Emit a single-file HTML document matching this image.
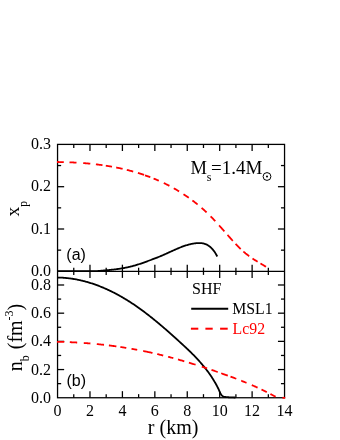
<!DOCTYPE html>
<html><head><meta charset="utf-8"><title>figure</title>
<style>
html,body{margin:0;padding:0;background:#fff;}
body{width:340px;height:440px;overflow:hidden;font-family:"Liberation Serif",serif;}
svg{display:block;}
</style></head><body>
<svg style="will-change:transform" width="340" height="440" viewBox="0 0 340 440">
<rect x="0" y="0" width="340" height="440" fill="#fff"/>
<rect x="57.55" y="144.4" width="227.00" height="253.35" fill="none" stroke="#000" stroke-width="1.28"/>
<line x1="57.55" y1="271.30" x2="284.55" y2="271.30" stroke="#000" stroke-width="1.28"/>
<line x1="73.76" y1="144.40" x2="73.76" y2="148.00" stroke="#000" stroke-width="1.28"/>
<line x1="73.76" y1="267.70" x2="73.76" y2="274.90" stroke="#000" stroke-width="1.28"/>
<line x1="73.76" y1="394.15" x2="73.76" y2="397.75" stroke="#000" stroke-width="1.28"/>
<line x1="89.98" y1="144.40" x2="89.98" y2="151.00" stroke="#000" stroke-width="1.28"/>
<line x1="89.98" y1="264.70" x2="89.98" y2="277.90" stroke="#000" stroke-width="1.28"/>
<line x1="89.98" y1="391.15" x2="89.98" y2="397.75" stroke="#000" stroke-width="1.28"/>
<line x1="106.19" y1="144.40" x2="106.19" y2="148.00" stroke="#000" stroke-width="1.28"/>
<line x1="106.19" y1="267.70" x2="106.19" y2="274.90" stroke="#000" stroke-width="1.28"/>
<line x1="106.19" y1="394.15" x2="106.19" y2="397.75" stroke="#000" stroke-width="1.28"/>
<line x1="122.41" y1="144.40" x2="122.41" y2="151.00" stroke="#000" stroke-width="1.28"/>
<line x1="122.41" y1="264.70" x2="122.41" y2="277.90" stroke="#000" stroke-width="1.28"/>
<line x1="122.41" y1="391.15" x2="122.41" y2="397.75" stroke="#000" stroke-width="1.28"/>
<line x1="138.62" y1="144.40" x2="138.62" y2="148.00" stroke="#000" stroke-width="1.28"/>
<line x1="138.62" y1="267.70" x2="138.62" y2="274.90" stroke="#000" stroke-width="1.28"/>
<line x1="138.62" y1="394.15" x2="138.62" y2="397.75" stroke="#000" stroke-width="1.28"/>
<line x1="154.84" y1="144.40" x2="154.84" y2="151.00" stroke="#000" stroke-width="1.28"/>
<line x1="154.84" y1="264.70" x2="154.84" y2="277.90" stroke="#000" stroke-width="1.28"/>
<line x1="154.84" y1="391.15" x2="154.84" y2="397.75" stroke="#000" stroke-width="1.28"/>
<line x1="171.05" y1="144.40" x2="171.05" y2="148.00" stroke="#000" stroke-width="1.28"/>
<line x1="171.05" y1="267.70" x2="171.05" y2="274.90" stroke="#000" stroke-width="1.28"/>
<line x1="171.05" y1="394.15" x2="171.05" y2="397.75" stroke="#000" stroke-width="1.28"/>
<line x1="187.26" y1="144.40" x2="187.26" y2="151.00" stroke="#000" stroke-width="1.28"/>
<line x1="187.26" y1="264.70" x2="187.26" y2="277.90" stroke="#000" stroke-width="1.28"/>
<line x1="187.26" y1="391.15" x2="187.26" y2="397.75" stroke="#000" stroke-width="1.28"/>
<line x1="203.48" y1="144.40" x2="203.48" y2="148.00" stroke="#000" stroke-width="1.28"/>
<line x1="203.48" y1="267.70" x2="203.48" y2="274.90" stroke="#000" stroke-width="1.28"/>
<line x1="203.48" y1="394.15" x2="203.48" y2="397.75" stroke="#000" stroke-width="1.28"/>
<line x1="219.69" y1="144.40" x2="219.69" y2="151.00" stroke="#000" stroke-width="1.28"/>
<line x1="219.69" y1="264.70" x2="219.69" y2="277.90" stroke="#000" stroke-width="1.28"/>
<line x1="219.69" y1="391.15" x2="219.69" y2="397.75" stroke="#000" stroke-width="1.28"/>
<line x1="235.91" y1="144.40" x2="235.91" y2="148.00" stroke="#000" stroke-width="1.28"/>
<line x1="235.91" y1="267.70" x2="235.91" y2="274.90" stroke="#000" stroke-width="1.28"/>
<line x1="235.91" y1="394.15" x2="235.91" y2="397.75" stroke="#000" stroke-width="1.28"/>
<line x1="252.12" y1="144.40" x2="252.12" y2="151.00" stroke="#000" stroke-width="1.28"/>
<line x1="252.12" y1="264.70" x2="252.12" y2="277.90" stroke="#000" stroke-width="1.28"/>
<line x1="252.12" y1="391.15" x2="252.12" y2="397.75" stroke="#000" stroke-width="1.28"/>
<line x1="268.34" y1="144.40" x2="268.34" y2="148.00" stroke="#000" stroke-width="1.28"/>
<line x1="268.34" y1="267.70" x2="268.34" y2="274.90" stroke="#000" stroke-width="1.28"/>
<line x1="268.34" y1="394.15" x2="268.34" y2="397.75" stroke="#000" stroke-width="1.28"/>
<line x1="57.55" y1="250.15" x2="61.15" y2="250.15" stroke="#000" stroke-width="1.28"/>
<line x1="280.95" y1="250.15" x2="284.55" y2="250.15" stroke="#000" stroke-width="1.28"/>
<line x1="57.55" y1="229.00" x2="64.15" y2="229.00" stroke="#000" stroke-width="1.28"/>
<line x1="277.95" y1="229.00" x2="284.55" y2="229.00" stroke="#000" stroke-width="1.28"/>
<line x1="57.55" y1="207.85" x2="61.15" y2="207.85" stroke="#000" stroke-width="1.28"/>
<line x1="280.95" y1="207.85" x2="284.55" y2="207.85" stroke="#000" stroke-width="1.28"/>
<line x1="57.55" y1="186.70" x2="64.15" y2="186.70" stroke="#000" stroke-width="1.28"/>
<line x1="277.95" y1="186.70" x2="284.55" y2="186.70" stroke="#000" stroke-width="1.28"/>
<line x1="57.55" y1="165.55" x2="61.15" y2="165.55" stroke="#000" stroke-width="1.28"/>
<line x1="280.95" y1="165.55" x2="284.55" y2="165.55" stroke="#000" stroke-width="1.28"/>
<line x1="57.55" y1="383.65" x2="61.15" y2="383.65" stroke="#000" stroke-width="1.28"/>
<line x1="280.95" y1="383.65" x2="284.55" y2="383.65" stroke="#000" stroke-width="1.28"/>
<line x1="57.55" y1="369.56" x2="64.15" y2="369.56" stroke="#000" stroke-width="1.28"/>
<line x1="277.95" y1="369.56" x2="284.55" y2="369.56" stroke="#000" stroke-width="1.28"/>
<line x1="57.55" y1="355.46" x2="61.15" y2="355.46" stroke="#000" stroke-width="1.28"/>
<line x1="280.95" y1="355.46" x2="284.55" y2="355.46" stroke="#000" stroke-width="1.28"/>
<line x1="57.55" y1="341.37" x2="64.15" y2="341.37" stroke="#000" stroke-width="1.28"/>
<line x1="277.95" y1="341.37" x2="284.55" y2="341.37" stroke="#000" stroke-width="1.28"/>
<line x1="57.55" y1="327.27" x2="61.15" y2="327.27" stroke="#000" stroke-width="1.28"/>
<line x1="280.95" y1="327.27" x2="284.55" y2="327.27" stroke="#000" stroke-width="1.28"/>
<line x1="57.55" y1="313.18" x2="64.15" y2="313.18" stroke="#000" stroke-width="1.28"/>
<line x1="277.95" y1="313.18" x2="284.55" y2="313.18" stroke="#000" stroke-width="1.28"/>
<line x1="57.55" y1="299.08" x2="61.15" y2="299.08" stroke="#000" stroke-width="1.28"/>
<line x1="280.95" y1="299.08" x2="284.55" y2="299.08" stroke="#000" stroke-width="1.28"/>
<line x1="57.55" y1="284.99" x2="64.15" y2="284.99" stroke="#000" stroke-width="1.28"/>
<line x1="277.95" y1="284.99" x2="284.55" y2="284.99" stroke="#000" stroke-width="1.28"/>
<clipPath id="ct"><rect x="56.91" y="144.4" width="227.64000000000001" height="128.9"/></clipPath>
<clipPath id="cb"><rect x="56.91" y="271.3" width="228.64000000000001" height="127.64999999999999"/></clipPath>
<g clip-path="url(#ct)">
<polyline points="57.55,271.10 58.25,271.10 58.95,271.10 59.65,271.10 60.35,271.10 61.05,271.10 61.75,271.10 62.45,271.10 63.16,271.10 63.86,271.10 64.56,271.10 65.26,271.10 65.96,271.10 66.66,271.10 67.36,271.10 68.06,271.10 68.76,271.10 69.46,271.10 70.16,271.10 70.86,271.10 71.56,271.10 72.26,271.10 72.96,271.10 73.67,271.10 74.37,271.10 75.07,271.10 75.77,271.10 76.47,271.10 77.17,271.10 77.87,271.10 78.57,271.10 79.27,271.10 79.97,271.10 80.67,271.10 81.37,271.10 82.07,271.10 82.77,271.10 83.47,271.10 84.17,271.10 84.88,271.10 85.58,271.10 86.28,271.10 86.98,271.10 87.68,271.10 88.38,271.10 89.08,271.10 89.78,271.10 90.48,271.10 91.18,271.10 91.88,271.10 92.58,271.10 93.28,271.10 93.98,271.10 94.68,271.10 95.39,271.10 96.09,271.10 96.79,271.10 97.49,271.10 98.19,271.00 98.89,270.94 99.59,270.87 100.29,270.81 100.99,270.75 101.69,270.69 102.39,270.63 103.09,270.56 103.79,270.50 104.49,270.44 105.19,270.38 105.90,270.31 106.60,270.25 107.30,270.18 108.00,270.12 108.70,270.05 109.40,269.98 110.10,269.91 110.80,269.84 111.50,269.76 112.20,269.69 112.90,269.61 113.60,269.53 114.30,269.45 115.00,269.36 115.70,269.28 116.41,269.19 117.11,269.10 117.81,269.00 118.51,268.90 119.21,268.80 119.91,268.70 120.61,268.59 121.31,268.48 122.01,268.37 122.71,268.25 123.41,268.13 124.11,268.00 124.81,267.87 125.51,267.73 126.21,267.60 126.92,267.45 127.62,267.30 128.32,267.15 129.02,266.99 129.72,266.83 130.42,266.66 131.12,266.49 131.82,266.31 132.52,266.13 133.22,265.94 133.92,265.74 134.62,265.54 135.32,265.34 136.02,265.13 136.72,264.91 137.43,264.69 138.13,264.47 138.83,264.24 139.53,264.01 140.23,263.78 140.93,263.54 141.63,263.30 142.33,263.06 143.03,262.81 143.73,262.56 144.43,262.31 145.13,262.06 145.83,261.80 146.53,261.55 147.23,261.29 147.93,261.03 148.64,260.77 149.34,260.51 150.04,260.25 150.74,259.99 151.44,259.73 152.14,259.46 152.84,259.20 153.54,258.94 154.24,258.67 154.94,258.41 155.64,258.14 156.34,257.86 157.04,257.59 157.74,257.31 158.44,257.03 159.15,256.75 159.85,256.46 160.55,256.17 161.25,255.88 161.95,255.58 162.65,255.27 163.35,254.97 164.05,254.66 164.75,254.34 165.45,254.03 166.15,253.71 166.85,253.39 167.55,253.07 168.25,252.75 168.95,252.43 169.66,252.11 170.36,251.79 171.06,251.47 171.76,251.15 172.46,250.83 173.16,250.52 173.86,250.20 174.56,249.89 175.26,249.58 175.96,249.27 176.66,248.97 177.36,248.67 178.06,248.37 178.76,248.08 179.46,247.79 180.17,247.51 180.87,247.24 181.57,246.96 182.27,246.70 182.97,246.44 183.67,246.19 184.37,245.94 185.07,245.71 185.77,245.48 186.47,245.26 187.17,245.04 187.87,244.84 188.57,244.64 189.27,244.46 189.97,244.28 190.68,244.12 191.38,243.96 192.08,243.82 192.78,243.69 193.48,243.57 194.18,243.46 194.88,243.36 195.58,243.27 196.28,243.20 196.98,243.15 197.68,243.10 198.38,243.07 199.08,243.06 199.78,243.06 200.48,243.08 201.18,243.13 201.89,243.20 202.59,243.30 203.29,243.43 203.99,243.59 204.69,243.79 205.39,244.03 206.09,244.30 206.79,244.63 207.49,245.00 208.19,245.41 208.89,245.88 209.59,246.41 210.29,246.99 210.99,247.62 211.69,248.33 212.40,249.09 213.10,249.93 213.80,250.83 214.50,251.81 215.20,252.86 215.90,253.99 216.60,255.20 217.30,256.49" fill="none" stroke="#000" stroke-width="1.8" stroke-linecap="butt" stroke-linejoin="round"/>
<polyline points="57.00,161.99 57.76,162.00 58.51,162.02 59.27,162.03 60.02,162.04 60.78,162.06 61.53,162.07 62.29,162.09 63.04,162.11 63.80,162.13" fill="none" stroke="#ff0000" stroke-width="1.8" stroke-linecap="butt" stroke-linejoin="round"/>
<polyline points="69.50,162.32 70.20,162.35 70.90,162.38 71.60,162.41 72.30,162.44 73.00,162.47 73.70,162.51 74.40,162.54 75.10,162.58 75.80,162.62 76.50,162.66" fill="none" stroke="#ff0000" stroke-width="1.8" stroke-linecap="butt" stroke-linejoin="round"/>
<polyline points="83.20,163.10 83.91,163.16 84.62,163.21 85.33,163.27 86.04,163.33 86.75,163.39 87.46,163.45 88.17,163.52 88.88,163.58 89.59,163.65 90.30,163.72" fill="none" stroke="#ff0000" stroke-width="1.8" stroke-linecap="butt" stroke-linejoin="round"/>
<polyline points="95.90,164.32 96.63,164.41 97.37,164.50 98.10,164.59 98.83,164.68 99.57,164.77 100.30,164.87 101.03,164.97 101.77,165.07 102.50,165.17" fill="none" stroke="#ff0000" stroke-width="1.8" stroke-linecap="butt" stroke-linejoin="round"/>
<polyline points="105.80,165.66 106.58,165.78 107.35,165.91 108.12,166.03 108.90,166.16 109.67,166.29 110.45,166.43 111.22,166.56 112.00,166.70" fill="none" stroke="#ff0000" stroke-width="1.8" stroke-linecap="butt" stroke-linejoin="round"/>
<polyline points="116.20,167.50 116.91,167.64 117.62,167.79 118.33,167.93 119.04,168.08 119.76,168.24 120.47,168.39 121.18,168.55 121.89,168.71 122.60,168.87" fill="none" stroke="#ff0000" stroke-width="1.8" stroke-linecap="butt" stroke-linejoin="round"/>
<polyline points="126.80,169.87 127.51,170.05 128.22,170.23 128.93,170.41 129.64,170.60 130.36,170.79 131.07,170.98 131.78,171.18 132.49,171.37 133.20,171.57" fill="none" stroke="#ff0000" stroke-width="1.8" stroke-linecap="butt" stroke-linejoin="round"/>
<polyline points="137.90,172.96 138.68,173.20 139.45,173.44 140.22,173.69 141.00,173.94 141.78,174.19 142.55,174.45 143.32,174.71 144.10,174.97" fill="none" stroke="#ff0000" stroke-width="1.8" stroke-linecap="butt" stroke-linejoin="round"/>
<polyline points="145.00,175.29 145.76,175.55 146.51,175.82 147.27,176.09 148.03,176.37 148.79,176.65 149.54,176.93 150.30,177.22" fill="none" stroke="#ff0000" stroke-width="1.8" stroke-linecap="butt" stroke-linejoin="round"/>
<polyline points="153.60,178.52 154.34,178.82 155.09,179.13 155.83,179.44 156.57,179.75 157.31,180.07 158.06,180.39 158.80,180.72" fill="none" stroke="#ff0000" stroke-width="1.8" stroke-linecap="butt" stroke-linejoin="round"/>
<polyline points="163.80,183.02 164.60,183.41 165.40,183.80 166.20,184.20 167.00,184.60 167.80,185.01 168.60,185.42 169.40,185.84" fill="none" stroke="#ff0000" stroke-width="1.8" stroke-linecap="butt" stroke-linejoin="round"/>
<polyline points="173.80,188.24 174.56,188.68 175.31,189.11 176.07,189.55 176.83,190.00 177.59,190.45 178.34,190.91 179.10,191.37" fill="none" stroke="#ff0000" stroke-width="1.8" stroke-linecap="butt" stroke-linejoin="round"/>
<polyline points="183.50,194.17 184.26,194.67 185.01,195.17 185.77,195.69 186.53,196.20 187.29,196.73 188.04,197.26 188.80,197.79" fill="none" stroke="#ff0000" stroke-width="1.8" stroke-linecap="butt" stroke-linejoin="round"/>
<polyline points="192.40,200.43 193.14,200.99 193.89,201.56 194.63,202.13 195.37,202.71 196.11,203.30 196.86,203.90 197.60,204.50" fill="none" stroke="#ff0000" stroke-width="1.8" stroke-linecap="butt" stroke-linejoin="round"/>
<polyline points="201.60,207.87 202.31,208.49 203.03,209.12 203.74,209.76 204.46,210.41 205.17,211.07 205.89,211.73 206.60,212.40" fill="none" stroke="#ff0000" stroke-width="1.8" stroke-linecap="butt" stroke-linejoin="round"/>
<polyline points="210.60,216.31 211.38,217.10 212.17,217.91 212.95,218.72 213.73,219.55 214.52,220.38 215.30,221.22" fill="none" stroke="#ff0000" stroke-width="1.8" stroke-linecap="butt" stroke-linejoin="round"/>
<polyline points="219.10,225.38 219.86,226.23 220.61,227.08 221.37,227.93 222.13,228.78 222.89,229.64 223.64,230.50 224.40,231.36" fill="none" stroke="#ff0000" stroke-width="1.8" stroke-linecap="butt" stroke-linejoin="round"/>
<polyline points="227.50,234.89 228.26,235.74 229.01,236.60 229.77,237.46 230.53,238.31 231.29,239.16 232.04,240.00 232.80,240.83" fill="none" stroke="#ff0000" stroke-width="1.8" stroke-linecap="butt" stroke-linejoin="round"/>
<polyline points="235.60,243.86 236.33,244.63 237.06,245.39 237.79,246.14 238.51,246.87 239.24,247.60 239.97,248.31 240.70,249.01" fill="none" stroke="#ff0000" stroke-width="1.8" stroke-linecap="butt" stroke-linejoin="round"/>
<polyline points="243.40,251.48 244.12,252.12 244.85,252.73 245.57,253.34 246.30,253.93 247.03,254.51 247.75,255.08 248.47,255.63 249.20,256.18" fill="none" stroke="#ff0000" stroke-width="1.8" stroke-linecap="butt" stroke-linejoin="round"/>
<polyline points="252.50,258.49 253.23,258.98 253.96,259.45 254.69,259.92 255.41,260.38 256.14,260.84 256.87,261.29 257.60,261.73" fill="none" stroke="#ff0000" stroke-width="1.8" stroke-linecap="butt" stroke-linejoin="round"/>
<polyline points="260.40,263.42 261.10,263.84 261.80,264.26 262.50,264.68 263.20,265.10 263.90,265.53 264.60,265.95 265.30,266.38 266.00,266.82" fill="none" stroke="#ff0000" stroke-width="1.8" stroke-linecap="butt" stroke-linejoin="round"/>
</g>
<g clip-path="url(#cb)">
<polyline points="56.91,277.51 57.61,277.52 58.31,277.53 59.01,277.55 59.71,277.57 60.41,277.60 61.11,277.63 61.81,277.67 62.51,277.71 63.21,277.76 63.91,277.81 64.61,277.86 65.31,277.92 66.01,277.99 66.71,278.05 67.42,278.13 68.12,278.20 68.82,278.29 69.52,278.37 70.22,278.46 70.92,278.56 71.62,278.66 72.32,278.76 73.02,278.87 73.72,278.99 74.42,279.10 75.12,279.23 75.82,279.35 76.52,279.48 77.22,279.62 77.92,279.76 78.62,279.90 79.32,280.05 80.02,280.20 80.72,280.36 81.42,280.52 82.12,280.69 82.82,280.86 83.52,281.03 84.22,281.21 84.92,281.39 85.62,281.58 86.32,281.77 87.03,281.97 87.73,282.17 88.43,282.38 89.13,282.58 89.83,282.80 90.53,283.02 91.23,283.24 91.93,283.46 92.63,283.69 93.33,283.93 94.03,284.17 94.73,284.41 95.43,284.66 96.13,284.91 96.83,285.17 97.53,285.43 98.23,285.69 98.93,285.96 99.63,286.23 100.33,286.51 101.03,286.79 101.73,287.07 102.43,287.36 103.13,287.66 103.83,287.95 104.53,288.26 105.23,288.56 105.93,288.87 106.64,289.19 107.34,289.50 108.04,289.83 108.74,290.15 109.44,290.48 110.14,290.82 110.84,291.16 111.54,291.50 112.24,291.85 112.94,292.20 113.64,292.55 114.34,292.91 115.04,293.28 115.74,293.64 116.44,294.01 117.14,294.39 117.84,294.77 118.54,295.15 119.24,295.54 119.94,295.93 120.64,296.33 121.34,296.72 122.04,297.13 122.74,297.53 123.44,297.95 124.14,298.36 124.84,298.78 125.54,299.20 126.24,299.63 126.95,300.06 127.65,300.49 128.35,300.93 129.05,301.38 129.75,301.82 130.45,302.27 131.15,302.73 131.85,303.19 132.55,303.65 133.25,304.11 133.95,304.58 134.65,305.06 135.35,305.53 136.05,306.01 136.75,306.50 137.45,306.99 138.15,307.48 138.85,307.98 139.55,308.48 140.25,308.98 140.95,309.49 141.65,310.00 142.35,310.51 143.05,311.03 143.75,311.55 144.45,312.08 145.15,312.61 145.85,313.14 146.56,313.67 147.26,314.21 147.96,314.75 148.66,315.30 149.36,315.84 150.06,316.39 150.76,316.95 151.46,317.50 152.16,318.06 152.86,318.63 153.56,319.19 154.26,319.76 154.96,320.33 155.66,320.90 156.36,321.48 157.06,322.06 157.76,322.64 158.46,323.22 159.16,323.81 159.86,324.40 160.56,324.99 161.26,325.58 161.96,326.18 162.66,326.77 163.36,327.37 164.06,327.98 164.76,328.58 165.46,329.19 166.17,329.80 166.87,330.41 167.57,331.02 168.27,331.63 168.97,332.25 169.67,332.87 170.37,333.49 171.07,334.11 171.77,334.73 172.47,335.36 173.17,335.99 173.87,336.61 174.57,337.24 175.27,337.88 175.97,338.51 176.67,339.14 177.37,339.78 178.07,340.42 178.77,341.05 179.47,341.69 180.17,342.34 180.87,342.98 181.57,343.62 182.27,344.26 182.97,344.91 183.67,345.56 184.37,346.21 185.07,346.86 185.77,347.51 186.48,348.17 187.18,348.83 187.88,349.49 188.58,350.16 189.28,350.84 189.98,351.51 190.68,352.20 191.38,352.89 192.08,353.58 192.78,354.28 193.48,354.99 194.18,355.71 194.88,356.43 195.58,357.16 196.28,357.90 196.98,358.65 197.68,359.40 198.38,360.17 199.08,360.94 199.78,361.73 200.48,362.52 201.18,363.33 201.88,364.14 202.58,364.97 203.28,365.81 203.98,366.67 204.68,367.53 205.38,368.41 206.09,369.30 206.79,370.20 207.49,371.12 208.19,372.06 208.89,373.02 209.59,374.00 210.29,375.00 210.99,376.03 211.69,377.08 212.39,378.16 213.09,379.26 213.79,380.41 214.49,381.59 215.19,382.79 215.89,384.03 216.59,385.30 217.29,386.61 217.99,388.00 218.69,389.45 219.39,391.07 220.09,392.78 220.79,394.07 221.49,395.09 222.19,395.73 222.89,396.22 223.59,396.57 224.29,396.77 224.99,396.90 225.70,397.01 226.40,397.09 227.10,397.15 227.80,397.21 228.50,397.25 229.20,397.28 229.90,397.31 230.60,397.34 231.30,397.37 232.00,397.40 232.70,397.42 233.40,397.45 234.10,397.48 234.80,397.51 235.50,397.53" fill="none" stroke="#000" stroke-width="1.8" stroke-linecap="butt" stroke-linejoin="round"/>
<polyline points="57.00,341.78 57.73,341.79 58.46,341.81 59.19,341.82 59.92,341.84 60.65,341.86 61.38,341.88 62.11,341.90 62.84,341.92 63.57,341.94 64.30,341.97" fill="none" stroke="#ff0000" stroke-width="1.8" stroke-linecap="butt" stroke-linejoin="round"/>
<polyline points="69.80,342.18 70.54,342.21 71.28,342.24 72.02,342.28 72.76,342.31 73.50,342.35 74.24,342.39 74.98,342.43 75.72,342.47 76.46,342.51 77.20,342.55" fill="none" stroke="#ff0000" stroke-width="1.8" stroke-linecap="butt" stroke-linejoin="round"/>
<polyline points="83.80,342.98 84.53,343.03 85.27,343.08 86.00,343.14 86.73,343.19 87.47,343.25 88.20,343.31 88.93,343.37 89.67,343.43 90.40,343.49" fill="none" stroke="#ff0000" stroke-width="1.8" stroke-linecap="butt" stroke-linejoin="round"/>
<polyline points="96.80,344.08 97.52,344.15 98.24,344.22 98.96,344.29 99.68,344.37 100.40,344.44 101.12,344.52 101.84,344.60 102.56,344.67 103.28,344.75 104.00,344.84" fill="none" stroke="#ff0000" stroke-width="1.8" stroke-linecap="butt" stroke-linejoin="round"/>
<polyline points="108.90,345.42 109.65,345.51 110.40,345.60 111.15,345.70 111.90,345.80 112.65,345.90 113.40,346.00 114.15,346.10 114.90,346.20 115.65,346.30 116.40,346.41" fill="none" stroke="#ff0000" stroke-width="1.8" stroke-linecap="butt" stroke-linejoin="round"/>
<polyline points="120.40,346.99 121.14,347.10 121.88,347.21 122.61,347.32 123.35,347.44 124.09,347.55 124.83,347.67 125.56,347.79 126.30,347.91" fill="none" stroke="#ff0000" stroke-width="1.8" stroke-linecap="butt" stroke-linejoin="round"/>
<polyline points="131.50,348.78 132.21,348.91 132.93,349.03 133.64,349.16 134.35,349.29 135.06,349.42 135.77,349.55 136.49,349.68 137.20,349.81" fill="none" stroke="#ff0000" stroke-width="1.8" stroke-linecap="butt" stroke-linejoin="round"/>
<polyline points="143.20,350.98 143.92,351.13 144.63,351.27 145.35,351.42 146.06,351.57 146.78,351.72 147.49,351.87 148.21,352.02 148.92,352.18 149.64,352.33 150.35,352.49 151.07,352.65 151.78,352.80 152.50,352.96" fill="none" stroke="#ff0000" stroke-width="1.8" stroke-linecap="butt" stroke-linejoin="round"/>
<polyline points="157.20,354.04 157.95,354.22 158.70,354.40 159.45,354.58 160.20,354.76 160.95,354.95 161.70,355.13 162.45,355.32 163.20,355.50" fill="none" stroke="#ff0000" stroke-width="1.8" stroke-linecap="butt" stroke-linejoin="round"/>
<polyline points="168.10,356.76 168.84,356.95 169.59,357.15 170.33,357.35 171.07,357.55 171.81,357.75 172.56,357.95 173.30,358.15" fill="none" stroke="#ff0000" stroke-width="1.8" stroke-linecap="butt" stroke-linejoin="round"/>
<polyline points="178.00,359.46 178.70,359.66 179.40,359.86 180.10,360.06 180.80,360.26 181.50,360.46 182.20,360.66 182.90,360.87 183.60,361.07 184.30,361.28" fill="none" stroke="#ff0000" stroke-width="1.8" stroke-linecap="butt" stroke-linejoin="round"/>
<polyline points="188.90,362.65 189.64,362.88 190.39,363.11 191.13,363.34 191.88,363.56 192.62,363.79 193.37,364.02 194.11,364.26 194.86,364.49 195.60,364.72" fill="none" stroke="#ff0000" stroke-width="1.8" stroke-linecap="butt" stroke-linejoin="round"/>
<polyline points="201.80,366.70 202.56,366.94 203.31,367.19 204.07,367.43 204.83,367.68 205.59,367.93 206.34,368.18 207.10,368.43" fill="none" stroke="#ff0000" stroke-width="1.8" stroke-linecap="butt" stroke-linejoin="round"/>
<polyline points="211.50,369.90 212.28,370.17 213.05,370.43 213.82,370.70 214.60,370.96 215.38,371.23 216.15,371.49 216.92,371.76 217.70,372.03" fill="none" stroke="#ff0000" stroke-width="1.8" stroke-linecap="butt" stroke-linejoin="round"/>
<polyline points="221.20,373.26 221.93,373.52 222.67,373.78 223.40,374.04 224.13,374.30 224.87,374.56 225.60,374.82 226.33,375.09 227.07,375.35 227.80,375.62" fill="none" stroke="#ff0000" stroke-width="1.8" stroke-linecap="butt" stroke-linejoin="round"/>
<polyline points="230.50,376.61 231.22,376.87 231.95,377.14 232.68,377.41 233.40,377.68 234.12,377.96 234.85,378.23 235.58,378.51 236.30,378.78" fill="none" stroke="#ff0000" stroke-width="1.8" stroke-linecap="butt" stroke-linejoin="round"/>
<polyline points="241.20,380.69 241.96,380.99 242.71,381.29 243.47,381.60 244.23,381.90 244.99,382.21 245.74,382.52 246.50,382.83" fill="none" stroke="#ff0000" stroke-width="1.8" stroke-linecap="butt" stroke-linejoin="round"/>
<polyline points="251.80,385.08 252.53,385.40 253.25,385.71 253.98,386.04 254.70,386.36 255.43,386.68 256.15,387.01 256.88,387.34 257.60,387.67" fill="none" stroke="#ff0000" stroke-width="1.8" stroke-linecap="butt" stroke-linejoin="round"/>
<polyline points="261.50,389.51 262.26,389.87 263.01,390.24 263.77,390.61 264.53,390.98 265.29,391.36 266.04,391.74 266.80,392.12" fill="none" stroke="#ff0000" stroke-width="1.8" stroke-linecap="butt" stroke-linejoin="round"/>
<polyline points="270.40,393.98 271.14,394.38 271.89,394.78 272.63,395.18 273.37,395.58 274.11,395.99 274.86,396.40 275.60,396.82" fill="none" stroke="#ff0000" stroke-width="1.8" stroke-linecap="butt" stroke-linejoin="round"/>
</g>
<line x1="282.40" y1="397.80" x2="285.20" y2="397.80" stroke="#ff0000" stroke-width="1.8"/>
<text x="51.00" y="276.05" font-size="16" text-anchor="end" font-family="Liberation Serif, serif" fill="#000" >0.0</text>
<text x="51.00" y="233.75" font-size="16" text-anchor="end" font-family="Liberation Serif, serif" fill="#000" >0.1</text>
<text x="51.00" y="191.45" font-size="16" text-anchor="end" font-family="Liberation Serif, serif" fill="#000" >0.2</text>
<text x="51.00" y="149.15" font-size="16" text-anchor="end" font-family="Liberation Serif, serif" fill="#000" >0.3</text>
<text x="51.00" y="402.75" font-size="16" text-anchor="end" font-family="Liberation Serif, serif" fill="#000" >0.0</text>
<text x="51.00" y="374.56" font-size="16" text-anchor="end" font-family="Liberation Serif, serif" fill="#000" >0.2</text>
<text x="51.00" y="346.37" font-size="16" text-anchor="end" font-family="Liberation Serif, serif" fill="#000" >0.4</text>
<text x="51.00" y="318.18" font-size="16" text-anchor="end" font-family="Liberation Serif, serif" fill="#000" >0.6</text>
<text x="51.00" y="289.99" font-size="16" text-anchor="end" font-family="Liberation Serif, serif" fill="#000" >0.8</text>
<text x="57.55" y="416.45" font-size="16" text-anchor="middle" font-family="Liberation Serif, serif" fill="#000" >0</text>
<text x="89.98" y="416.45" font-size="16" text-anchor="middle" font-family="Liberation Serif, serif" fill="#000" >2</text>
<text x="122.41" y="416.45" font-size="16" text-anchor="middle" font-family="Liberation Serif, serif" fill="#000" >4</text>
<text x="154.84" y="416.45" font-size="16" text-anchor="middle" font-family="Liberation Serif, serif" fill="#000" >6</text>
<text x="187.26" y="416.45" font-size="16" text-anchor="middle" font-family="Liberation Serif, serif" fill="#000" >8</text>
<text x="219.69" y="416.45" font-size="16" text-anchor="middle" font-family="Liberation Serif, serif" fill="#000" >10</text>
<text x="252.12" y="416.45" font-size="16" text-anchor="middle" font-family="Liberation Serif, serif" fill="#000" >12</text>
<text x="284.55" y="416.45" font-size="16" text-anchor="middle" font-family="Liberation Serif, serif" fill="#000" >14</text>
<text x="173.10" y="434.40" font-size="20" text-anchor="middle" font-family="Liberation Serif, serif" fill="#000" >r (km)</text>
<text x="66.30" y="259.90" font-size="16" text-anchor="start" font-family="Liberation Sans, sans-serif" fill="#000" >(a)</text>
<text x="66.50" y="386.30" font-size="16" text-anchor="start" font-family="Liberation Sans, sans-serif" fill="#000" >(b)</text>
<text x="190.6" y="173.8" font-size="18.5" font-family="Liberation Serif, serif" fill="#000">M</text>
<text x="206.8" y="180.6" font-size="12" font-family="Liberation Serif, serif" fill="#000">s</text>
<text x="211.1" y="173.8" font-size="19" font-family="Liberation Serif, serif" fill="#000">=1.4M</text>
<circle cx="267.0" cy="176.5" r="3.9" fill="none" stroke="#000" stroke-width="1.0"/>
<circle cx="267.0" cy="176.5" r="1.05" fill="#000"/>
<text x="192.00" y="294.40" font-size="16" text-anchor="start" font-family="Liberation Serif, serif" fill="#000" >SHF</text>
<text x="232.20" y="313.50" font-size="15.8" text-anchor="start" font-family="Liberation Serif, serif" fill="#000" >MSL1</text>
<text x="232.60" y="333.80" font-size="15.8" text-anchor="start" font-family="Liberation Serif, serif" fill="#ff0000" >Lc92</text>
<line x1="191.20" y1="308.70" x2="228.20" y2="308.70" stroke="#000" stroke-width="2.0"/>
<line x1="190.90" y1="328.70" x2="198.30" y2="328.70" stroke="#ff0000" stroke-width="2.0"/>
<line x1="205.40" y1="328.70" x2="212.70" y2="328.70" stroke="#ff0000" stroke-width="2.0"/>
<line x1="220.10" y1="328.70" x2="227.70" y2="328.70" stroke="#ff0000" stroke-width="2.0"/>
<text transform="translate(19.0,208.7) rotate(-90)" font-size="19.5" text-anchor="middle" font-family="Liberation Serif, serif">x<tspan font-size="11.5" dy="7.5">p</tspan></text>
<text transform="translate(21.5,337.45) rotate(-90)" font-size="20" text-anchor="middle" font-family="Liberation Serif, serif">n<tspan font-size="12" dy="7.5">b</tspan><tspan dy="-7.5" dx="0.9"> (fm</tspan><tspan font-size="12" dy="-8.5">-3</tspan><tspan dy="8.5">)</tspan></text>
</svg>
</body></html>
